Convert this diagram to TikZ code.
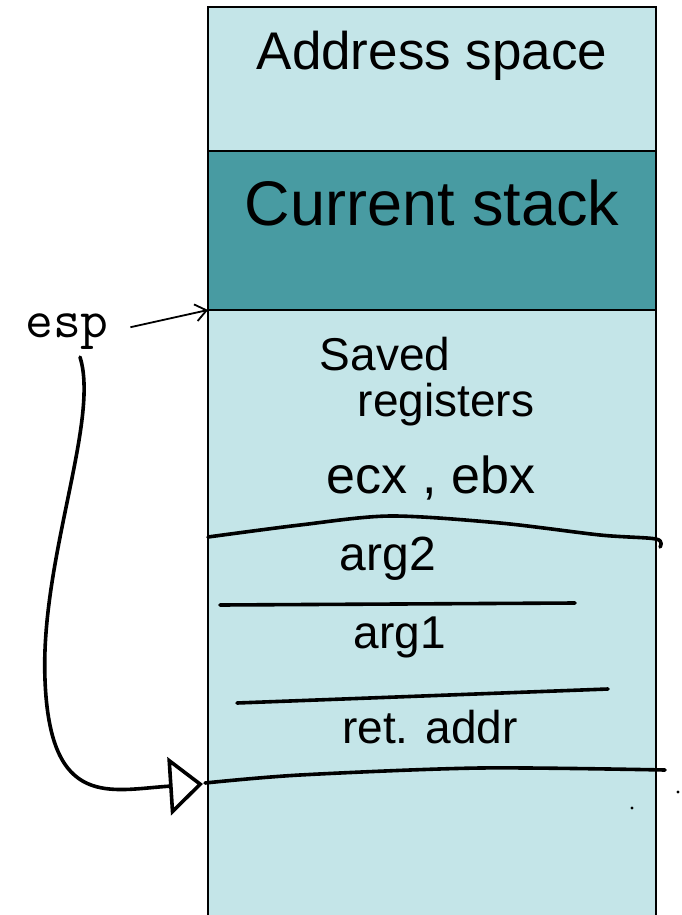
\documentclass[tikz,border=0pt]{standalone}
\usepackage{fontspec}
\setmainfont{Liberation Sans}
\usetikzlibrary{arrows.meta,positioning}
\definecolor{stacklight}{HTML}{C4E5E8}
\definecolor{stackdark}{HTML}{489BA2}
\begin{document}
\begin{tikzpicture}[x=1pt,y=-1pt,line width=1.6pt,
	region/.style={draw,minimum width=448pt,anchor=north west,inner sep=0pt,outer sep=0pt},
	hand/.style={anchor=base,inner sep=0pt,font=\fontsize{46}{46}\selectfont},
	ink/.style={line width=3.6pt,line cap=round,line join=round}]
	\useasboundingbox (0,0) rectangle (681,915);

	%regions
	\node[region,fill=stacklight,minimum height=144pt] (addr) at (208,7) {};
	\node[region,fill=stackdark,minimum height=159pt] (cur) at (addr.south west) {};
	\node[region,fill=stacklight,minimum height=620pt] (frame) at (cur.south west) {};
	\node[anchor=base,font=\fontsize{53}{53}\selectfont] (addrlbl) at (432,70) {Address space}; %title
	\node[anchor=base,font=\fontsize{63}{63}\selectfont] (curlbl) at (432,225) {Current stack}; %title

	%frame contents
	\node[hand] (saved) at (385,370) {Saved};
	\node[hand] (regs) at (446,416) {registers};
	\node[hand,font=\fontsize{52}{52}\selectfont] (ecx) at (431,493) {ecx , ebx};
	\node[hand,font=\fontsize{48}{48}\selectfont] (argtwo) at (388,570) {arg2};
	\node[hand] (argone) at (400,648) {arg1};
	\node[hand] (ret) at (430,743) {ret. addr};

	%dividers
	\draw[ink] plot[smooth] coordinates {(208,537) (300,525) (390,516) (500,523) (600,535) (656,539) (660,547)}; %regs/arg2
	\draw[ink] (220,605) -- (575,603); %arg2/arg1
	\draw[ink] (237,703) -- (608,689); %arg1/ret
	\draw[ink] plot[smooth] coordinates {(205,783) (300,775) (480,768) (665,770)}; %ret line
	\fill (632,808) circle (1.6pt) (678,792) circle (1.6pt); %dots

	%pointers
	\node[anchor=base,font=\ttfamily\fontsize{54}{54}\selectfont] (esp) at (67,337) {esp};
	\coordinate (sptop) at (cur.south west);
	\coordinate (spret) at (203,784);
	\draw[line width=1.8pt,-{Straight Barb[length=11pt,width=17pt]},shorten <=18pt] (esp.east) -- (sptop); %esp arrow
	\draw[ink,-{Triangle[open,length=34pt,width=58pt]}] ([xshift=13pt,yshift=-4pt]esp.south) .. controls (100,420) and (40,560) .. (45,680) .. controls (50,810) and (110,790) .. (spret); %old esp
\end{tikzpicture}
\end{document}
